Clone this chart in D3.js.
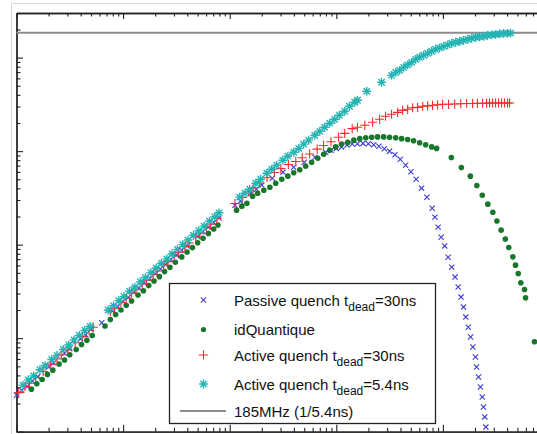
<!DOCTYPE html>
<html>
<head>
<meta charset="utf-8">
<script src="https://cdn.jsdelivr.net/npm/d3@7"></script>
<style>
  body { margin: 0; background: #fff; }
  svg { display: block; }
  .axis path, .axis line { stroke: #222; }
  .legend text { font-family: "Liberation Sans", Arial, sans-serif; fill: #111; }
</style>
</head>
<body>
<div id="chart"></div>
<script>
// detected rate (y) versus incident photon rate (x)
var passiveQuench = [
  [1.00e5,2.45e4],[1.12e5,2.78e4],[1.26e5,3.05e4],[1.41e5,3.48e4],[1.58e5,3.86e4],[2.00e5,4.95e4],[2.24e5,5.45e4],
  [2.82e5,6.95e4],[3.16e5,7.70e4],[3.98e5,9.80e4],[4.47e5,1.09e5],[5.01e5,1.24e5],[6.31e5,1.46e5],[7.94e5,1.95e5],
  [8.91e5,2.18e5],[1.00e6,2.46e5],[1.12e6,2.73e5],[1.26e6,3.10e5],[1.41e6,3.45e5],[1.58e6,3.90e5],[1.78e6,4.35e5],
  [2.00e6,4.88e5],[2.24e6,5.50e5],[2.51e6,6.12e5],[2.82e6,6.95e5],[3.16e6,7.70e5],[3.55e6,8.70e5],[3.98e6,9.70e5],
  [5.01e6,1.22e6],[5.62e6,1.38e6],[6.31e6,1.54e6],[7.08e6,1.72e6],[7.94e6,1.93e6],
  [1.12e7,2.63e6],[1.26e7,2.92e6],[1.58e7,3.55e6],[1.78e7,3.92e6],[2.00e7,4.33e6],[2.51e7,5.13e6],[3.16e7,5.96e6],
  [3.98e7,6.73e6],[5.01e7,7.61e6],[6.31e7,8.61e6],[7.94e7,9.73e6],[8.91e7,1.02e7],[1.00e8,1.07e7],[1.12e8,1.11e7],
  [1.26e8,1.16e7],[1.41e8,1.19e7],[1.58e8,1.20e7],[1.78e8,1.21e7],[2.00e8,1.20e7],[2.24e8,1.17e7],[2.51e8,1.13e7],
  [2.82e8,1.06e7],[3.16e8,1.00e7],[3.55e8,9.16e6],[3.98e8,8.18e6],[4.47e8,7.06e6],[5.01e8,6.03e6],[5.62e8,5.01e6],
  [6.31e8,4.02e6],[7.08e8,3.21e6],[7.94e8,2.45e6],[8.41e8,1.97e6],[9.02e8,1.54e6],[9.62e8,1.20e6],[1.04e9,9.70e5],
  [1.12e9,7.35e5],[1.21e9,5.75e5],[1.30e9,4.50e5],[1.39e9,3.52e5],[1.48e9,2.75e5],[1.56e9,2.15e5],[1.64e9,1.68e5],
  [1.73e9,1.31e5],[1.82e9,1.03e5],[1.91e9,8.04e4],[2.02e9,6.28e4],[2.07e9,4.91e4],[2.16e9,3.84e4],[2.25e9,3.01e4],
  [2.34e9,2.35e4],[2.40e9,1.84e4],[2.47e9,1.44e4],[2.53e9,1.12e4]
];

var idQuantique = [
  [1.38e5,2.85e4],[1.55e5,3.25e4],[1.74e5,3.62e4],[1.95e5,4.10e4],[2.19e5,4.55e4],[2.51e5,5.30e4],[2.82e5,5.85e4],
  [3.16e5,6.65e4],[3.63e5,7.55e4],[4.07e5,8.55e4],[4.57e5,9.50e4],[5.13e5,1.07e5],[6.76e5,1.35e5],[7.59e5,1.58e5],
  [8.51e5,1.79e5],[9.55e5,2.00e5],[1.07e6,2.25e5],[1.20e6,2.50e5],[1.38e6,2.90e5],[1.55e6,3.22e5],[1.74e6,3.65e5],
  [1.95e6,4.08e5],[2.19e6,4.55e5],[2.45e6,5.15e5],[2.75e6,5.72e5],[3.09e6,6.48e5],[3.55e6,7.40e5],[3.98e6,8.35e5],
  [4.47e6,9.30e5],[5.01e6,1.05e6],[5.62e6,1.17e6],[6.31e6,1.32e6],[7.08e6,1.47e6],[7.76e6,1.62e6],
  [1.16e7,2.34e6],[1.30e7,2.58e6],[1.45e7,2.77e6],[1.64e7,3.30e6],[1.83e7,3.55e6],[2.09e7,3.82e6],[2.38e7,4.11e6],
  [2.70e7,4.54e6],[3.08e7,5.01e6],[3.51e7,5.40e6],[3.99e7,5.88e6],[4.54e7,6.33e6],[5.16e7,6.90e6],[5.87e7,7.61e6],
  [6.70e7,8.39e6],[7.62e7,9.27e6],[8.67e7,1.02e7],[9.86e7,1.11e7],[1.12e8,1.19e7],[1.28e8,1.24e7],[1.46e8,1.31e7],
  [1.66e8,1.36e7],[1.89e8,1.39e7],[2.15e8,1.41e7],[2.44e8,1.42e7],[2.78e8,1.42e7],[3.16e8,1.41e7],[3.61e8,1.39e7],
  [4.10e8,1.36e7],[4.67e8,1.33e7],[5.31e8,1.29e7],[6.05e8,1.23e7],[6.89e8,1.17e7],[7.84e8,1.11e7],[8.73e8,1.07e7],
  [1.20e9,8.55e6],[1.49e9,6.68e6],[1.81e9,5.40e6],[2.08e9,4.29e6],[2.34e9,3.38e6],[2.64e9,2.71e6],[2.94e9,2.22e6],
  [3.21e9,1.79e6],[3.52e9,1.43e6],[3.85e9,1.15e6],[4.15e9,9.33e5],[4.53e9,7.41e5],[4.80e9,6.04e5],[5.09e9,4.92e5],
  [5.38e9,3.91e5],[5.83e9,3.32e5],[5.96e9,2.70e5],[7.23e9,9.16e4]
];

var activeQuench30 = [
  [1.05e5,2.62e4],[1.20e5,3.05e4],[1.32e5,3.30e4],[1.51e5,3.82e4],[1.78e5,4.42e4],[2.09e5,5.28e4],[2.40e5,6.00e4],
  [2.63e5,6.65e4],[3.02e5,7.55e4],[3.55e5,8.95e4],[4.17e5,1.04e5],[4.79e5,1.21e5],[5.25e5,1.31e5],[7.59e5,1.92e5],
  [8.32e5,2.08e5],[9.55e5,2.41e5],[1.07e6,2.68e5],[1.20e6,3.03e5],[1.32e6,3.30e5],[1.51e6,3.80e5],[1.66e6,4.15e5],
  [1.91e6,4.82e5],[2.09e6,5.22e5],[2.40e6,6.05e5],[2.63e6,6.58e5],[3.02e6,7.62e5],[3.31e6,8.28e5],[3.80e6,9.58e5],
  [4.17e6,1.04e6],[4.79e6,1.21e6],[5.25e6,1.31e6],[6.03e6,1.52e6],[6.61e6,1.65e6],[7.59e6,1.91e6],
  [1.12e7,2.75e6],[1.32e7,3.20e6],[1.51e7,3.68e6],[1.66e7,4.02e6],[1.91e7,4.55e6],[2.24e7,5.20e6],[2.63e7,5.90e6],
  [3.02e7,6.50e6],[3.55e7,7.20e6],[4.17e7,7.76e6],[4.79e7,8.51e6],[5.62e7,9.33e6],[6.61e7,1.05e7],[7.59e7,1.15e7],
  [8.91e7,1.26e7],[1.05e8,1.41e7],[1.20e8,1.55e7],[1.41e8,1.74e7],[1.58e8,1.80e7],[1.85e8,1.89e7],[2.19e8,2.04e7],
  [2.55e8,2.19e7],[2.90e8,2.36e7],[3.30e8,2.48e7],[3.76e8,2.60e7],[4.19e8,2.73e7],[4.67e8,2.80e7],[5.20e8,2.91e7],
  [5.79e8,2.94e7],[6.46e8,3.02e7],[7.19e8,3.05e7],[8.00e8,3.09e7],[8.91e8,3.13e7],[9.93e8,3.17e7],[1.13e9,3.17e7],
  [1.29e9,3.19e7],[1.47e9,3.21e7],[1.67e9,3.23e7],[1.90e9,3.23e7],[2.11e9,3.25e7],[2.36e9,3.25e7],[2.57e9,3.25e7],
  [2.74e9,3.27e7],[2.92e9,3.27e7],[3.12e9,3.27e7],[3.33e9,3.27e7],[3.55e9,3.27e7],[3.78e9,3.27e7],[4.04e9,3.27e7],
  [4.22e9,3.27e7]
];

var activeQuench54 = [
  [1.15e5,3.15e4],[1.29e5,3.58e4],[1.45e5,3.95e4],[1.66e5,4.60e4],[1.86e5,5.10e4],[2.14e5,5.92e4],[2.40e5,6.55e4],
  [2.75e5,7.60e4],[3.09e5,8.45e4],[3.47e5,9.60e4],[3.89e5,1.07e5],[4.37e5,1.21e5],[4.90e5,1.34e5],[7.24e5,2.00e5],
  [8.13e5,2.22e5],[9.12e5,2.52e5],[1.02e6,2.80e5],[1.15e6,3.18e5],[1.29e6,3.52e5],[1.45e6,4.00e5],[1.62e6,4.45e5],
  [1.82e6,5.02e5],[2.04e6,5.60e5],[2.29e6,6.32e5],[2.57e6,7.05e5],[2.88e6,7.95e5],[3.24e6,8.90e5],[3.63e6,1.00e6],
  [4.07e6,1.12e6],[4.57e6,1.26e6],[5.13e6,1.41e6],[5.75e6,1.58e6],[6.46e6,1.78e6],[7.24e6,1.99e6],[7.94e6,2.19e6],
  [1.24e7,3.22e6],[1.39e7,3.55e6],[1.54e7,3.92e6],[1.76e7,4.54e6],[1.95e7,5.01e6],[2.23e7,5.81e6],[2.48e7,6.41e6],
  [2.76e7,7.07e6],[3.15e7,8.00e6],[3.51e7,8.83e6],[3.99e7,9.73e6],[4.45e7,1.07e7],[4.95e7,1.19e7],[5.51e7,1.31e7],
  [6.28e7,1.48e7],[7.00e7,1.63e7],[7.78e7,1.80e7],[8.67e7,1.99e7],[9.66e7,2.19e7],[1.07e8,2.42e7],[1.20e8,2.67e7],
  [1.33e8,3.02e7],[1.49e8,3.33e7],[1.58e8,3.50e7],[1.93e8,4.37e7],[2.66e8,5.45e7],[3.30e8,6.46e7],[3.61e8,6.96e7],
  [3.93e8,7.31e7],[4.29e8,7.87e7],[4.67e8,8.38e7],[5.09e8,8.91e7],[5.55e8,9.59e7],[6.05e8,1.01e8],[6.59e8,1.06e8],
  [7.19e8,1.11e8],[7.84e8,1.17e8],[8.55e8,1.23e8],[9.31e8,1.27e8],[1.02e9,1.32e8],[1.11e9,1.37e8],[1.21e9,1.42e8],
  [1.32e9,1.46e8],[1.44e9,1.49e8],[1.56e9,1.53e8],[1.71e9,1.57e8],[1.86e9,1.61e8],[2.03e9,1.65e8],[2.21e9,1.67e8],
  [2.41e9,1.69e8],[2.62e9,1.73e8],[2.86e9,1.75e8],[3.12e9,1.77e8],[3.40e9,1.79e8],[3.71e9,1.82e8],[4.04e9,1.82e8],
  [4.32e9,1.83e8]
];

var maxRate = 1.85e8;   // 1/5.4ns
var xDecades = [1e5, 1e6, 1e7, 1e8, 1e9, 1e10];
var yDecades = [1e4, 1e5, 1e6, 1e7, 1e8];

var legendLabels = [
  {main: "Passive quench t", sub: "dead", tail: "=30ns"},
  {main: "idQuantique"},
  {main: "Active quench t", sub: "dead", tail: "=30ns"},
  {main: "Active quench t", sub: "dead", tail: "=5.4ns"},
  {main: "185MHz (1/5.4ns)"}
];

var W = 537, H = 434;
var plot = {left: 16.5, top: 13, bottom: 431.7, right: 549.5};

var x = d3.scaleLog().domain([1e5, 1e10]).range([plot.left, plot.right]);
var y = d3.scaleLog().domain([1e4, 3e8]).range([plot.bottom, plot.top]);

var svg = d3.select("#chart").append("svg")
  .attr("width", W)
  .attr("height", H);

// faint outer frame of the figure
svg.append("path")
  .attr("d", "M11.5," + H + "V3.5H" + W)
  .attr("fill", "none")
  .attr("stroke", "#d4d4d4")
  .attr("stroke-width", 1);

// minor ticks = every 1..9 multiple that is not a decade
var xMinor = x.ticks().filter(function(d) { return xDecades.indexOf(d) < 0; });
var yMinor = y.ticks().filter(function(d) { return yDecades.indexOf(d) < 0; });

function addAxis(axisFn, scale, values, size, transform) {
  svg.append("g")
    .attr("class", "axis")
    .attr("transform", transform)
    .call(axisFn(scale).tickValues(values).tickSize(size).tickSizeOuter(0).tickFormat(""))
    .call(function(g) {
      g.select(".domain").attr("stroke-width", 1.3);
      g.selectAll(".tick line").attr("stroke-width", 1.1);
    });
}

// inward ticks on top, bottom and left
addAxis(d3.axisBottom, x, xDecades, 6, "translate(0," + plot.top + ")");
addAxis(d3.axisBottom, x, xMinor, 3.5, "translate(0," + plot.top + ")");
addAxis(d3.axisTop, x, xDecades, 7, "translate(0," + plot.bottom + ")");
addAxis(d3.axisTop, x, xMinor, 4, "translate(0," + plot.bottom + ")");
addAxis(d3.axisRight, y, yDecades, 6.5, "translate(" + plot.left + ",0)");
addAxis(d3.axisRight, y, yMinor, 4, "translate(" + plot.left + ",0)");

// 185 MHz limit
svg.append("line")
  .attr("x1", plot.left).attr("x2", W)
  .attr("y1", y(maxRate)).attr("y2", y(maxRate))
  .attr("stroke", "#8c8c8c")
  .attr("stroke-width", 2);

// marker shapes
function crossPath(r) { return "M" + -r + "," + -r + "L" + r + "," + r + "M" + -r + "," + r + "L" + r + "," + -r; }
function plusPath(r) { return "M" + -r + ",0H" + r + "M0," + -r + "V" + r; }
function starPath(r) { var q = r * 0.72; return plusPath(r) + crossPath(q); }

var series = [
  {data: passiveQuench, color: "#3c3cd0", kind: "cross"},
  {data: idQuantique, color: "#17772a", kind: "dot"},
  {data: activeQuench30, color: "#f52a2a", kind: "plus"},
  {data: activeQuench54, color: "#25b4b4", kind: "star"}
];

function drawMarks(g, s) {
  if (s.kind === "dot") {
    g.append("circle").attr("r", 2.8).attr("fill", s.color);
  } else {
    var d = s.kind === "cross" ? crossPath(2.6) : s.kind === "plus" ? plusPath(4.6) : starPath(4.4);
    g.append("path").attr("d", d).attr("fill", "none")
      .attr("stroke", s.color).attr("stroke-width", s.kind === "star" ? 1.4 : 1.1);
  }
}

series.forEach(function(s) {
  svg.append("g").selectAll("g")
    .data(s.data)
    .enter().append("g")
    .attr("transform", function(d) { return "translate(" + x(d[0]) + "," + y(d[1]) + ")"; })
    .each(function() { drawMarks(d3.select(this), s); });
});

// legend
var legend = svg.append("g").attr("class", "legend");
legend.append("rect")
  .attr("x", 169.5).attr("y", 283.5)
  .attr("width", 266).attr("height", 140)
  .attr("fill", "#fff")
  .attr("stroke", "#222")
  .attr("stroke-width", 1.3);

var rowY = [300, 329.5, 355, 384, 411];
legendLabels.forEach(function(lab, i) {
  var row = legend.append("g").attr("transform", "translate(0," + rowY[i] + ")");
  if (i < 4) {
    var mk = row.append("g").attr("transform", "translate(203.5,0)");
    var s = series[i];
    if (s.kind === "dot") mk.append("circle").attr("r", 2.6).attr("fill", s.color);
    else drawMarks(mk, s.kind === "cross" ? {kind: "cross", color: s.color} : s);
  } else {
    row.append("line").attr("x1", 180).attr("x2", 226)
      .attr("stroke", "#8c8c8c").attr("stroke-width", 2);
  }
  var t = row.append("text").attr("x", 234).attr("y", 5.5).style("font-size", "15px");
  t.append("tspan").text(lab.main);
  if (lab.sub) {
    t.append("tspan").attr("dy", 5).style("font-size", "12px").text(lab.sub);
    t.append("tspan").attr("dy", -5).text(lab.tail);
  }
});
</script>
</body>
</html>
